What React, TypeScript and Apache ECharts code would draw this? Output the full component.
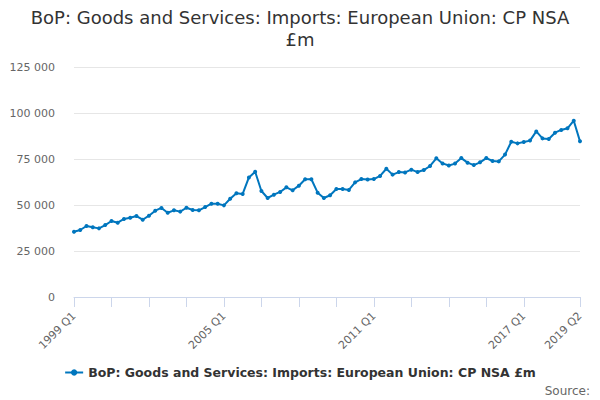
import React, { useEffect, useRef } from "react";
import * as echarts from "echarts";

const TITLE = "BoP: Goods and Services: Imports: European Union: CP NSA\n£m";
const SERIES_NAME = "BoP: Goods and Services: Imports: European Union: CP NSA £m";

const years: number[] = [1999, 2000, 2001, 2002, 2003, 2004, 2005, 2006, 2007, 2008, 2009, 2010, 2011, 2012, 2013, 2014, 2015, 2016, 2017, 2018, 2019];
const quarters: string[] = ["Q1", "Q2", "Q3", "Q4"];
const categories: string[] = [];
years.forEach((y) => quarters.forEach((q) => categories.push(`${y} ${q}`)));
categories.splice(82);

const values: number[] = [
  35500, 36400, 38600, 37900, 37300, 39100, 41300, 40400, 42400, 43100,
  44000, 42000, 44200, 46900, 48400, 45800, 47100, 46400, 48500, 47300,
  47100, 48900, 50700, 50700, 49800, 53400, 56400, 56000, 65000, 68100,
  57600, 53800, 55600, 57100, 59600, 58000, 60500, 64000, 64000, 56700,
  53800, 55300, 58700, 58700, 58200, 62300, 64100, 63900, 64100, 65800,
  69700, 66500, 67900, 67700, 69200, 67900, 69000, 71200, 75400, 72600,
  71500, 72500, 75500, 73000, 71700, 73200, 75500, 73900, 73700, 77400,
  84400, 83500, 84200, 85000, 90000, 86200, 85900, 89300, 90800, 91700,
  95800, 84600,
];

const labelIndices: number[] = [0, 24, 48, 72, 81];
const tickStep = 6;

const FONT = "DejaVu Sans";

export default function App() {
  const ref = useRef<HTMLDivElement>(null);
  useEffect(() => {
    if (!ref.current) return;
    const chart = echarts.init(ref.current, undefined, { renderer: "svg" });
    const last = categories.length - 1;
    chart.setOption({
      animation: false,
      backgroundColor: "#ffffff",
      title: {
        text: TITLE,
        left: "center",
        top: 1,
        textStyle: { fontFamily: FONT, fontSize: 18, fontWeight: "normal", color: "#333333", lineHeight: 22 },
      },
      grid: { left: 74, right: 20, top: 67, bottom: 103 },
      legend: {
        bottom: 16,
        left: "center",
        itemWidth: 18,
        itemHeight: 8,
        textStyle: { fontFamily: FONT, fontSize: 12.5, fontWeight: "bold", color: "#333333" },
        data: [SERIES_NAME],
      },
      graphic: [
        {
          type: "text",
          right: 10,
          top: 385,
          style: { text: "Source:", fontFamily: FONT, fontSize: 12, fill: "#666666" },
        },
      ],
      xAxis: {
        type: "category",
        data: categories,
        boundaryGap: false,
        axisLine: { lineStyle: { color: "#ccd6eb", width: 1 } },
        axisTick: {
          length: 10,
          lineStyle: { color: "#ccd6eb" },
          interval: (i: number) => (i % tickStep === 0 && i <= 72) || i === last,
        },
        axisLabel: {
          rotate: 45,
          fontFamily: FONT,
          fontSize: 11,
          color: "#666666",
          margin: 17,
          interval: (i: number) => labelIndices.includes(i),
        },
        splitLine: { show: false },
      },
      yAxis: {
        type: "value",
        min: 0,
        max: 125000,
        interval: 25000,
        axisLine: { show: false },
        axisTick: { show: false },
        splitLine: { lineStyle: { color: "#e6e6e6" } },
        axisLabel: {
          fontFamily: FONT,
          fontSize: 11,
          color: "#666666",
          margin: 19,
          formatter: (v: number) => String(v).replace(/\B(?=(\d{3})+(?!\d))/g, " "),
        },
      },
      series: [
        {
          name: SERIES_NAME,
          type: "line",
          data: values,
          symbol: "circle",
          symbolSize: 4,
          itemStyle: { color: "#0076be" },
          lineStyle: { color: "#0076be", width: 2 },
        },
      ],
    });
    return () => chart.dispose();
  }, []);
  return (
    <div
      ref={ref}
      style={{ position: "absolute", left: 0, top: 0, width: 600, height: 400 }}
    />
  );
}
